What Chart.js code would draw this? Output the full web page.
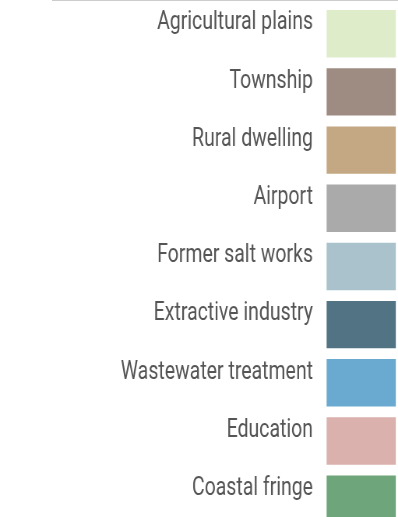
<!DOCTYPE html>
<html>
<head>
<meta charset="utf-8">
<script src="https://cdn.jsdelivr.net/npm/chart.js@4/dist/chart.umd.min.js"></script>
<style>
  html, body { margin: 0; padding: 0; background: #ffffff; overflow: hidden; width: 398px; height: 517px; }
  #wrap { position: absolute; left: 0; top: 0; height: 529px; transform-origin: 0 0; }
  #rule { position: absolute; left: 52px; top: 0; width: 346px; height: 1px; background: #cccccc; }
</style>
</head>
<body>
<div id="wrap"><canvas id="c"></canvas></div>
<div id="rule"></div>
<script>
// ---- data ----
const categories = [
  'Agricultural plains',
  'Township',
  'Rural dwelling',
  'Airport',
  'Former salt works',
  'Extractive industry',
  'Wastewater treatment',
  'Education',
  'Coastal fringe'
];
const swatchColors = [
  '#dfecca',
  '#9e8c82',
  '#c4a883',
  '#aaaaaa',
  '#a9c2cc',
  '#527383',
  '#6aaad1',
  '#dab1ad',
  '#6ea57a'
];
const swatchValues = [1, 1, 1, 1, 1, 1, 1, 1, 1];

// ---- layout (reference pixels) ----
const FONT_FAMILY = 'Roboto';
const FONT_SIZE = 25;
const refSamples = { 'Township': 79, 'Rural dwelling': 120.7, 'Agricultural plains': 152, 'Wastewater treatment': 201 };

// horizontal condensing factor so the font matches the narrow face of the reference
const mctx = document.createElement('canvas').getContext('2d');
mctx.font = FONT_SIZE + 'px ' + FONT_FAMILY;
let sumT = 0, sumM = 0;
for (const k in refSamples) { sumT += refSamples[k]; sumM += mctx.measureText(k).width; }
const sx = sumT / sumM;

const wrap = document.getElementById('wrap');
wrap.style.width = (398 / sx) + 'px';
wrap.style.transform = 'scaleX(' + sx + ')';

const swatchLeft = 326.5, swatchRight = 396;

new Chart(document.getElementById('c'), {
  type: 'bar',
  data: {
    labels: categories,
    datasets: [{
      data: swatchValues,
      backgroundColor: swatchColors,
      borderWidth: 0,
      barPercentage: 0.815,
      categoryPercentage: 1
    }]
  },
  options: {
    indexAxis: 'y',
    responsive: true,
    maintainAspectRatio: false,
    animation: false,
    events: [],
    layout: { padding: { top: 4.65, bottom: 0.8, left: 0, right: (398 - swatchRight) / sx } },
    plugins: { legend: { display: false }, tooltip: { enabled: false } },
    scales: {
      x: { display: false, min: 0, max: 1 },
      y: {
        position: 'left',
        grid: { display: false, drawTicks: false },
        border: { display: false },
        afterFit: (scale) => {
          scale.width = swatchLeft / sx;
          scale.paddingTop = 0;
          scale.paddingBottom = 0;
        },
        ticks: {
          autoSkip: false,
          padding: 13.5 / sx,
          labelOffset: -10.5,
          color: '#555555',
          font: { family: FONT_FAMILY, size: FONT_SIZE, weight: 'normal' }
        }
      }
    }
  }
});
</script>
</body>
</html>
